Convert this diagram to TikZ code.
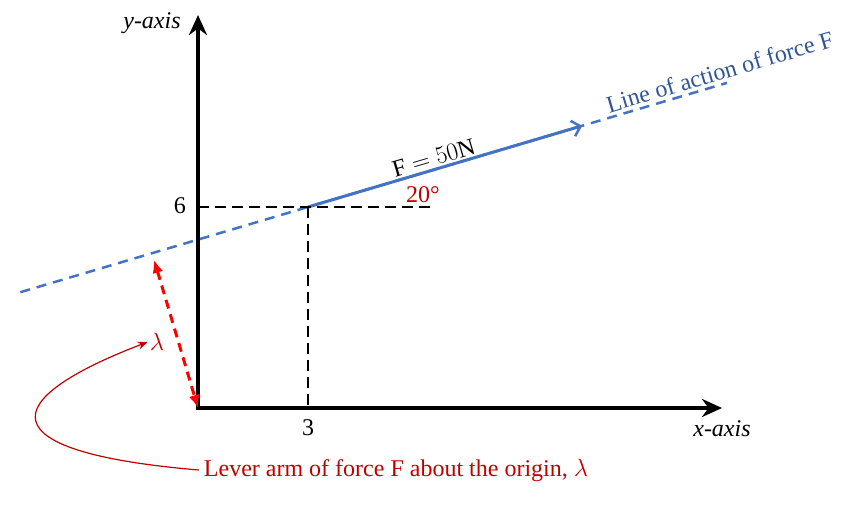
\documentclass[tikz,border=0pt]{standalone}
\usepackage{fontspec}
\setmainfont{Liberation Serif}
\usetikzlibrary{arrows.meta,calc}

\definecolor{forceblue}{RGB}{68,114,196}
\definecolor{textblue}{RGB}{47,84,150}
\definecolor{leverred}{RGB}{192,0,0}
\newcommand{\bigtxt}{\fontsize{24}{28}\selectfont}

\begin{document}
\begin{tikzpicture}[x=1pt,y=1pt,
		axis/.style={line width=4.5pt, line join=miter},
		guide/.style={line width=2.8pt, dash pattern=on 11pt off 6pt},
		lineact/.style={forceblue, line width=2.5pt, dash pattern=on 10pt off 7pt},
		force/.style={forceblue, line width=3pt, -{Straight Barb[length=8pt,width=16pt,line width=2.5pt]}},
		lever/.style={red, line width=3pt, dash pattern=on 9pt off 6pt, {Latex[length=13pt,width=11pt]}-{Latex[length=13pt,width=11pt]}},
		lbl/.style={font=\bigtxt, inner sep=2pt}]
	\pgfmathsetmacro{\ang}{16.5}
	\useasboundingbox (-198,-97) rectangle (667,408);
	\coordinate (O) at (0,0);
	\coordinate (P) at (110,201);
	\coordinate (ytip) at (0,393);
	\coordinate (xtip) at (524,0);
	\coordinate (P6) at (0,201);
	\coordinate (P3) at (110,0);
	\coordinate (H) at (234,201);

	% line of action and force
	\coordinate (Lstart) at ($(P)+(\ang:-300)$);
	\coordinate (Lend) at ($(P)+(\ang:437)$);
	\coordinate (Fend) at ($(P)+(\ang:286)$);
	\draw[lineact] (Lstart) -- (Lend) node[pos=0.995, above, sloped, inner sep=3pt, textblue, font=\bigtxt] {Line of action of force F};
	\draw[force] (P) -- (Fend) node[pos=0.47, above, sloped, lbl, black] {$\mathrm{F} = 50\mathrm{N}$};

	% axes
	\draw[axis, {Stealth[length=20pt,width=18pt]}-{Stealth[length=20pt,width=18pt]}] (ytip) -- (O) -- (xtip);
	\node[lbl, font=\bigtxt\itshape] (ylabel) at (-46,385) {y-axis};
	\node[lbl, font=\bigtxt\itshape] (xlabel) at (524,-21) {x-axis};

	% components
	\draw[guide] (P6) -- (H);
	\draw[guide] (P) -- (P3);
	\node[lbl] (six) at (-18,202) {6};
	\node[lbl] (three) at (110,-20) {3};
	\node[lbl, leverred] (angle) at (225,213) {20°};

	% lever arm
	\coordinate (foot) at ($(Lstart)!(O)!(Lend)$);
	\draw[lever, shorten <=7pt] (foot) -- (O);
	\node[lbl, leverred] (lam) at (-41,66) {$\lambda$};
	\node[lbl, leverred, inner sep=5pt] (levertxt) at (198,-62) {Lever arm of force F about the origin, $\lambda$};
	\draw[leverred, line width=1.2pt, -{Stealth[length=10pt,width=8pt]}] (levertxt.west) .. controls (-212,-44) and (-202,8) .. (lam.west);
\end{tikzpicture}
\end{document}
